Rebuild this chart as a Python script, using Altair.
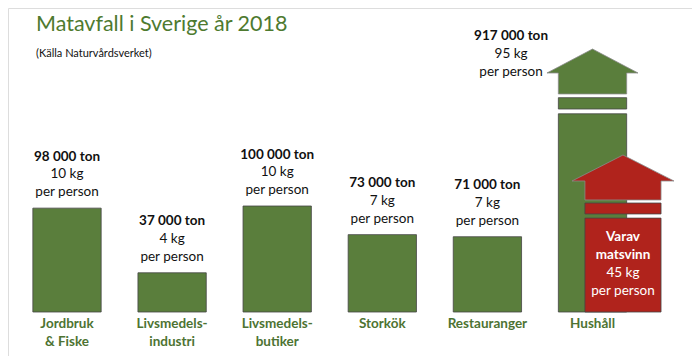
import altair as alt
import pandas as pd

# ---- data ----
categories = ["Jordbruk\n& Fiske", "Livsmedels-\nindustri", "Livsmedels-\nbutiker",
              "Storkök", "Restauranger", "Hushåll"]
tons = [98000, 37000, 100000, 73000, 71000, 917000]
kg_per_person = [10, 4, 10, 7, 7, 95]
waste_title = "Varav\nmatsvinn"
waste_kg = 45

# broken-scale display of the Hushåll bar (its value is far off the scale)
hh_body_top = 187000
hh_piece = (191500, 202200)
hh_shaft = (205700, 225500)
hh_tip = 248100
hh_label_anchor = 211600
red_body_top = hh_body_top * waste_kg / kg_per_person[-1]
red_piece = (92500, 102800)
red_shaft = (105700, 123600)
red_tip = 148100

GREEN = "#5a7e3c"
RED = "#b0231c"
TXT_GREEN = "#4d7332"
FONT = "Lato"

BAR_HALF = 0.325
HEAD_HALF = 0.433
RED_OFF = 0.29
RED_HALF = 0.362
RED_HEAD_HALF = 0.485
HH_LABEL_OFF = -0.775

n = len(categories)
hh = n - 1

# ---- bar rectangles ----
rects = []
for i in range(n - 1):
    rects.append(dict(x=i - BAR_HALF, x2=i + BAR_HALF, y=0, y2=tons[i]))
rects.append(dict(x=hh - BAR_HALF, x2=hh + BAR_HALF, y=0, y2=hh_body_top))
rects.append(dict(x=hh - BAR_HALF, x2=hh + BAR_HALF, y=hh_piece[0], y2=hh_piece[1]))
rc = hh + RED_OFF
rects_red = [
    dict(x=rc - RED_HALF, x2=rc + RED_HALF, y=0, y2=red_body_top),
    dict(x=rc - RED_HALF, x2=rc + RED_HALF, y=red_piece[0], y2=red_piece[1]),
]

EPS = 1e-4


def arrow(cx, sh, hw, bottom, base, tip):
    def tri(x):
        return base + (tip - base) * (1 - abs(x - cx) / hw)
    pts = [
        (cx - hw, base, base),
        (cx - sh - EPS, tri(cx - sh), base),
        (cx - sh, tri(cx - sh), bottom),
        (cx, tip, bottom),
        (cx + sh, tri(cx + sh), bottom),
        (cx + sh + EPS, tri(cx + sh), base),
        (cx + hw, base, base),
    ]
    return pd.DataFrame([dict(x=p[0], y=p[1], y2=p[2]) for p in pts])


green_arrow = arrow(hh, BAR_HALF, HEAD_HALF, hh_shaft[0], hh_shaft[1], hh_tip)
red_arrow = arrow(rc, RED_HALF, RED_HEAD_HALF, red_shaft[0], red_shaft[1], red_tip)

# ---- labels ----
def fmt_ton(t):
    return f"{t:,}".replace(",", " ") + " ton"

labels = []
for i in range(n):
    if i == hh:
        lx, ly = hh + HH_LABEL_OFF, hh_label_anchor
    else:
        lx, ly = i, tons[i]
    labels.append(dict(x=lx, y=ly, t1=fmt_ton(tons[i]), t2=f"{kg_per_person[i]} kg\nper person"))
labels = pd.DataFrame(labels)
cats = pd.DataFrame(dict(x=list(range(n)), y=[0] * n, t=categories))
red_txt = pd.DataFrame([dict(x=rc, y=red_body_top, t1=waste_title, t2=f"{waste_kg} kg\nper person")])

xs = alt.Scale(domain=[-0.5614, 5.9467])
ys = alt.Scale(domain=[-41500, 286800])
X = alt.X("x:Q", scale=xs, axis=None)
Y = alt.Y("y:Q", scale=ys, axis=None)

bars_g = alt.Chart(pd.DataFrame(rects)).mark_rect(
    color=GREEN, stroke="#454545", strokeWidth=0.8
).encode(x=X, x2="x2:Q", y=Y, y2="y2:Q")

arrow_g = alt.Chart(green_arrow).mark_area(
    fill=GREEN, stroke="#8a8a8a", strokeWidth=0.8, interpolate="linear", opacity=1
).encode(x=X, y=alt.Y("y:Q", scale=ys, axis=None, stack=None), y2="y2:Q")

bars_r = alt.Chart(pd.DataFrame(rects_red)).mark_rect(
    color=RED, stroke="#454545", strokeWidth=0.8
).encode(x=X, x2="x2:Q", y=Y, y2="y2:Q")

arrow_r = alt.Chart(red_arrow).mark_area(
    fill=RED, stroke="#8a8a8a", strokeWidth=0.8, interpolate="linear", opacity=1
).encode(x=X, y=alt.Y("y:Q", scale=ys, axis=None, stack=None), y2="y2:Q")

lab_bold = alt.Chart(labels).mark_text(
    font=FONT, fontSize=13.5, fontWeight="bold", color="#111111", baseline="middle", dy=-51.5
).encode(x=X, y=Y, text="t1:N")

lab_norm = alt.Chart(labels).mark_text(
    font=FONT, fontSize=13.5, color="#111111", baseline="middle", dy=-34,
    lineBreak="\n", lineHeight=18
).encode(x=X, y=Y, text="t2:N")

cat_lab = alt.Chart(cats).mark_text(
    font=FONT, fontSize=13.5, fontWeight="bold", color=TXT_GREEN, baseline="top", dy=5,
    lineBreak="\n", lineHeight=18
).encode(x=X, y=Y, text="t:N")

red_bold = alt.Chart(red_txt).mark_text(
    font=FONT, fontSize=13.5, fontWeight="bold", color="white", baseline="top", dy=12,
    lineBreak="\n", lineHeight=18
).encode(x=X, y=Y, text="t1:N")

red_norm = alt.Chart(red_txt).mark_text(
    font=FONT, fontSize=13.5, color="white", baseline="top", dy=48,
    lineBreak="\n", lineHeight=18
).encode(x=X, y=Y, text="t2:N")

chart = alt.layer(
    bars_g, arrow_g, bars_r, arrow_r, lab_bold, lab_norm, cat_lab, red_bold, red_norm
).properties(
    width=684, height=348,
    autosize=alt.AutoSizeParams(type="none"),
    padding=0,
    title=alt.TitleParams(
        text="Matavfall i Sverige år 2018",
        subtitle="(Källa Naturvårdsverket)",
        anchor="start", frame="group", orient="top", offset=-51, dx=28,
        font=FONT, fontSize=21.5, fontWeight="normal", color="#4e7a2f",
        subtitleFont=FONT, subtitleFontSize=11, subtitleColor="#111111",
        subtitlePadding=13,
    ),
).configure_view(stroke=None).configure(background="white")

chart.save("out.html", embed_options={"renderer": "svg", "actions": False})
